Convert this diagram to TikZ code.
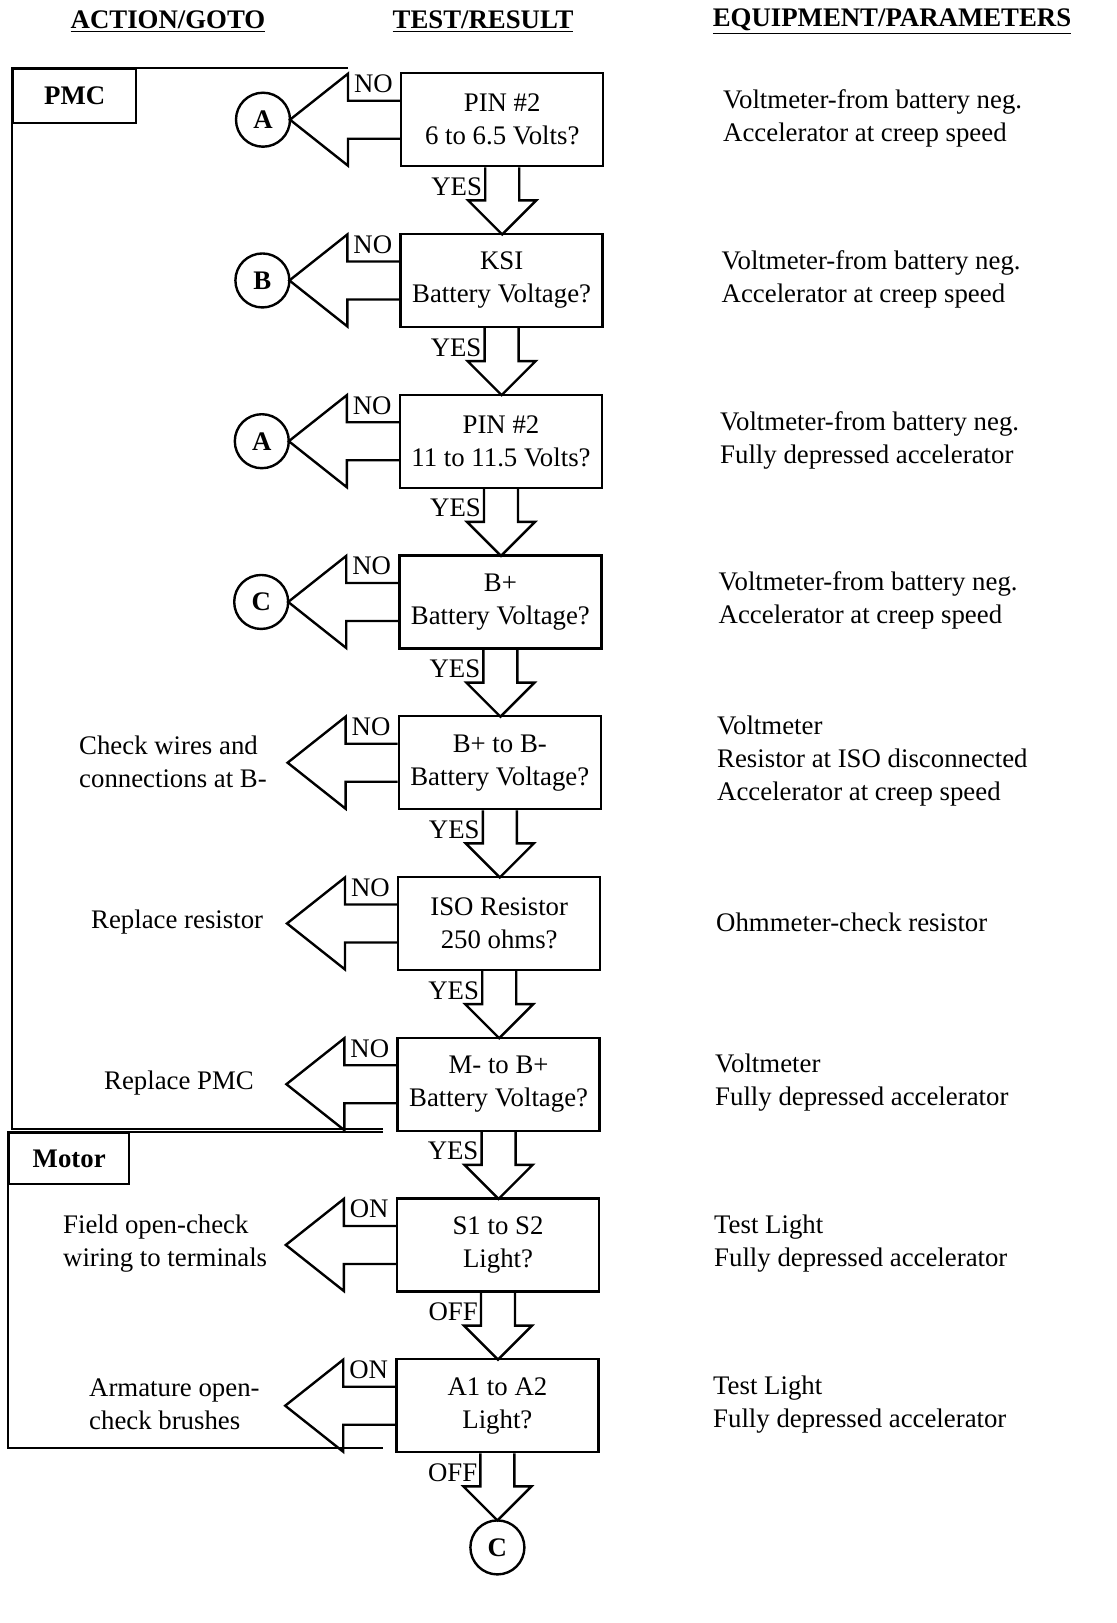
\documentclass[tikz,border=0pt]{standalone}
\usepackage{fontspec}
\setmainfont{Liberation Serif}
\usetikzlibrary{calc}
\newcommand\fsz{\fontsize{13.4}{16.5}\selectfont}
\newcommand\leftarr[1]{\draw (#1.west) ++(0,-19) -- ++(-52,0) -- ++(0,-27) -- ++(-58,46) -- ++(58,46) -- ++(0,-27) -- ++(52,0);}
\newcommand\downarr[1]{\draw (#1.south) ++(-17,0) -- ++(0,33) -- ++(-17,0) -- ++(34,34) -- ++(34,-34) -- ++(-17,0) -- ++(0,-33);}
\begin{document}
\begin{tikzpicture}[x=0.5pt,y=-0.5pt, line width=1.2pt,
  every node/.style={font=\fsz, inner sep=0pt},
  testbox/.style={draw, anchor=north west, minimum width=101pt, minimum height=46.5pt, align=center},
  goto/.style={draw, circle, minimum size=27pt, font=\fsz\bfseries},
  note/.style={align=left, anchor=west},
  nolab/.style={anchor=base east},
  yeslab/.style={anchor=base east},
  head/.style={font=\fsz\bfseries},
  area/.style={draw, anchor=north west, font=\fsz\bfseries}]
\useasboundingbox (0,0) rectangle (1117,1623);

% headers
\node[head] (h1) at (168,22) {\underline{ACTION/GOTO}};
\node[head] (h2) at (483,22) {\underline{TEST/RESULT}};
\node[head] (h3) at (892,22) {\underline{EQUIPMENT/PARAMETERS}};

% test boxes
\node[testbox] (b1) at (400,72) {PIN \#2\\6 to 6.5 Volts?};
\node[testbox] (b2) at (399.4,232.75) {KSI\\Battery Voltage?};
\node[testbox] (b3) at (398.8,393.5) {PIN \#2\\11 to 11.5 Volts?};
\node[testbox] (b4) at (398.2,554.25) {B+\\Battery Voltage?};
\node[testbox] (b5) at (397.6,715) {B+ to B-\\Battery Voltage?};
\node[testbox] (b6) at (397,875.75) {ISO Resistor\\250 ohms?};
\node[testbox] (b7) at (396.4,1036.5) {M- to B+\\Battery Voltage?};
\node[testbox] (b8) at (395.8,1197.25) {S1 to S2\\Light?};
\node[testbox] (b9) at (395.2,1358) {A1 to A2\\Light?};

% equipment / parameters
\node[note] (e1) at (722,118.5) {Voltmeter-from battery neg.\\Accelerator at creep speed};
\node[note] (e2) at (720.5,279.25) {Voltmeter-from battery neg.\\Accelerator at creep speed};
\node[note] (e3) at (719,440) {Voltmeter-from battery neg.\\Fully depressed accelerator};
\node[note] (e4) at (717.5,600.75) {Voltmeter-from battery neg.\\Accelerator at creep speed};
\node[note] (e5) at (716,761.5) {Voltmeter\\Resistor at ISO disconnected\\Accelerator at creep speed};
\node[note] (e6) at (715,922.25) {Ohmmeter-check resistor};
\node[note] (e7) at (714,1083) {Voltmeter\\Fully depressed accelerator};
\node[note] (e8) at (713,1243.75) {Test Light\\Fully depressed accelerator};
\node[note] (e9) at (712,1404.5) {Test Light\\Fully depressed accelerator};

% goto circles
\node[goto] (g1) at ($(b1.west)+(-137,0)$) {A};
\node[goto] (g2) at ($(b2.west)+(-137,0)$) {B};
\node[goto] (g3) at ($(b3.west)+(-137,0)$) {A};
\node[goto] (g4) at ($(b4.west)+(-137,0)$) {C};
\node[goto] (g10) at ($(b9.south)+(0,94)$) {C};

% actions
\node[note] (a5) at (78,761.5) {Check wires and\\connections at B-};
\node[note] (a6) at (90,922.25) {Replace resistor};
\node[note] (a7) at (103,1083) {Replace PMC};
\node[note] (a8) at (62,1243.75) {Field open-check\\wiring to terminals};
\node[note] (a9) at (88,1404.5) {Armature open-\\check brushes};

% left block arrows
\foreach \b in {b1,b2,b3,b4,b5,b6,b7,b8,b9} {\leftarr{\b}}
% down block arrows
\foreach \b in {b1,b2,b3,b4,b5,b6,b7,b8,b9} {\downarr{\b}}

% NO / ON labels
\foreach \b in {b1,b2,b3,b4,b5,b6,b7} {\node[nolab] at ($(\b.west)+(-6,-27)$) {NO};}
\foreach \b in {b8,b9} {\node[nolab] at ($(\b.west)+(-6,-27)$) {ON};}
% YES / OFF labels
\foreach \b in {b1,b2,b3,b4,b5,b6,b7} {\node[yeslab] at ($(\b.south)+(-19,28)$) {YES};}
\foreach \b in {b8,b9} {\node[yeslab] at ($(\b.south)+(-19,28)$) {OFF};}

% areas
\node[area, minimum width=61.5pt, minimum height=27pt] (pmc) at (12,68) {PMC};
\draw (348,68) -- (pmc.north west) -- (12,1129) -- (383,1129);
\node[area, minimum width=60pt, minimum height=25.5pt] (motor) at (8,1132) {Motor};
\draw (383,1132) -- (motor.north west) -- (8,1448) -- (383,1448);
\end{tikzpicture}
\end{document}
